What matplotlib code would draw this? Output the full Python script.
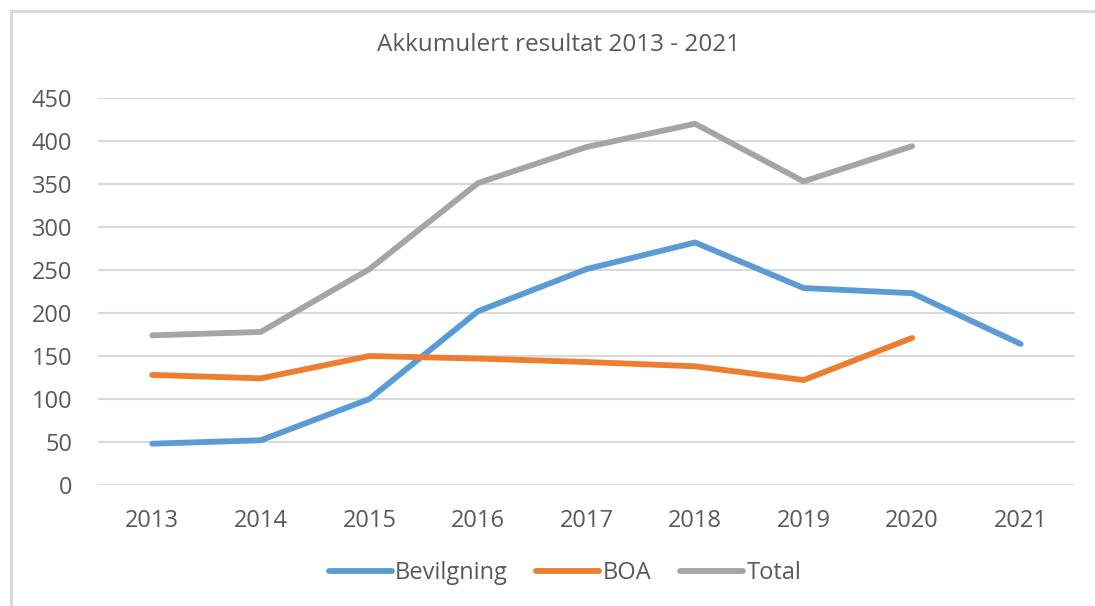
import matplotlib
matplotlib.use("Agg")
import matplotlib.pyplot as plt
from matplotlib.lines import Line2D
import numpy as np

years = ["2013", "2014", "2015", "2016", "2017", "2018", "2019", "2020", "2021"]
bevilgning = [48, 52, 100, 202, 251, 282, 229, 223, 164]
boa = [128, 124, 150, 147, 143, 138, 122, 171, None]
total = [174, 178, 251, 351, 393, 420, 353, 394, None]
yticks = [0, 50, 100, 150, 200, 250, 300, 350, 400, 450]

plt.rcParams['font.family'] = ['Open Sans', 'DejaVu Sans']

fig = plt.figure(figsize=(10.95, 6.06), dpi=100)
ax = fig.add_axes([0.0895, 0.1997, 0.8922, 0.6386])

x = np.arange(len(years))
def arr(v):
    return np.array([np.nan if a is None else a for a in v], dtype=float)

lw = 4.2
ax.plot(x, arr(bevilgning), color="#5B9BD5", lw=lw, solid_capstyle="round", solid_joinstyle="round", label="Bevilgning", zorder=3)
ax.plot(x, arr(boa), color="#ED7D31", lw=lw, solid_capstyle="round", solid_joinstyle="round", label="BOA", zorder=3)
ax.plot(x, arr(total), color="#A5A5A5", lw=lw, solid_capstyle="round", solid_joinstyle="round", label="Total", zorder=3)

ax.set_xlim(-0.5, len(years) - 0.5)
ax.set_ylim(0, 450)
ax.set_yticks(yticks)
ax.set_xticks(x)
ax.set_xticklabels(years)
ax.grid(axis="y", color="#D9D9D9", lw=1.5)
ax.set_axisbelow(True)
for s in ax.spines.values():
    s.set_visible(False)
ax.tick_params(axis="both", length=0, labelsize=17, labelcolor="#595959")
ax.tick_params(axis="y", pad=18.5)
ax.tick_params(axis="x", pad=17)

fig.text(0.5105, 0.926, "Akkumulert resultat 2013 - 2021", ha="center", va="center",
         fontsize=17.5, color="#595959")

leg = fig.legend(loc="center", bbox_to_anchor=(0.516, 0.0545), ncol=3, frameon=False,
                 fontsize=17, handlelength=2.67, handletextpad=0.15, columnspacing=1.2)
for t in leg.get_texts():
    t.set_color("#595959")

fig.add_artist(Line2D([0.010, 0.010], [0.0, 0.982], transform=fig.transFigure, color="#D9D9D9", lw=2.2))
fig.add_artist(Line2D([0.010, 1.0], [0.982, 0.982], transform=fig.transFigure, color="#D9D9D9", lw=2.2))

fig.savefig("out.png", dpi=100)
